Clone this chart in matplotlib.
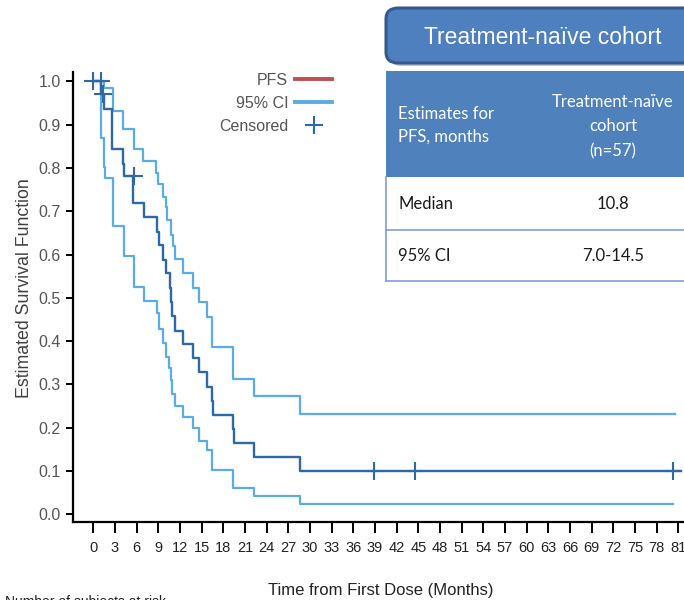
import matplotlib
matplotlib.use("Agg")
import matplotlib.pyplot as plt
from matplotlib.lines import Line2D
from matplotlib.patches import FancyBboxPatch, Rectangle

# Kaplan-Meier PFS estimate (step times in months, survival after each step)
pfs_t = [0, 1.07, 1.52, 2.6, 4.05, 4.3, 5.5, 7.0, 8.8, 9.05, 9.7, 10.0, 10.6, 10.75,
         10.85, 11.3, 12.45, 13.75, 14.6, 15.7, 16.5, 16.6, 19.3, 19.5, 22.2, 28.6, 81.4]
pfs_s = [1.0, 0.97, 0.937, 0.843, 0.81, 0.782, 0.718, 0.687, 0.653, 0.622, 0.587, 0.557,
         0.522, 0.491, 0.459, 0.424, 0.393, 0.360, 0.328, 0.295, 0.262, 0.229, 0.197,
         0.164, 0.132, 0.101, 0.101]

# 95% confidence band
upper_t = [0, 1.5, 2.7, 4.15, 5.64, 6.93, 8.68, 9.0, 9.7, 10.0, 10.2, 10.76, 11.1, 11.3,
           12.47, 13.77, 14.6, 15.7, 16.5, 19.3, 22.2, 28.6, 80.5]
upper_s = [1.0, 0.985, 0.932, 0.890, 0.844, 0.817, 0.789, 0.763, 0.733, 0.71, 0.68, 0.645,
           0.620, 0.589, 0.558, 0.523, 0.491, 0.455, 0.387, 0.312, 0.274, 0.231, 0.231]
lower_t = [0, 1.07, 1.5, 1.62, 2.68, 4.25, 5.64, 7.0, 8.78, 9.05, 9.7, 10.0, 10.5, 10.76,
           10.85, 11.27, 12.47, 13.77, 14.6, 15.7, 16.5, 19.3, 22.2, 28.6, 80.3]
lower_s = [1.0, 0.87, 0.803, 0.776, 0.666, 0.597, 0.526, 0.493, 0.464, 0.427, 0.395, 0.363,
           0.337, 0.31, 0.278, 0.251, 0.224, 0.199, 0.170, 0.148, 0.102, 0.060, 0.042,
           0.0245, 0.0245]

# Censored observations
cens_t = [0.0, 1.1, 1.3, 5.6, 38.9, 44.6, 80.3]
cens_s = [1.0, 1.0, 0.97, 0.782, 0.101, 0.101, 0.101]

x_ticks = list(range(0, 82, 3))
y_ticks = [0.0, 0.1, 0.2, 0.3, 0.4, 0.5, 0.6, 0.7, 0.8, 0.9, 1.0]

table_header = ["Estimates for\nPFS, months", "Treatment-naïve\ncohort\n(n=57)"]
table_rows = [("Median", "10.8"), ("95% CI", "7.0-14.5")]

PFS_BLUE = "#2E69A6"
CI_BLUE = "#5AADE4"
LEGEND_RED = "#C0504D"
HEADER_BLUE = "#4F81BD"
GREY_TXT = "#555555"

W, H = 684, 600
fig = plt.figure(figsize=(W / 100, H / 100), dpi=100)


def fx(px):
    return px / W


def fy(py):
    return 1 - py / H


ax = fig.add_axes([fx(73), fy(522), 1 - fx(73), fy(72) - fy(522)])
ax.set_xlim(-2.81, 81.8)
ax.set_ylim(-0.0178, 1.0215)

ax.step(upper_t, upper_s, where="post", color=CI_BLUE, lw=1.6)
ax.step(lower_t, lower_s, where="post", color=CI_BLUE, lw=1.6)
ax.step(pfs_t, pfs_s, where="post", color=PFS_BLUE, lw=1.7)
ax.plot(cens_t, cens_s, ls="none", marker="+", ms=13, mew=1.5, color=PFS_BLUE,
        clip_on=False)

for side in ("top", "right"):
    ax.spines[side].set_visible(False)
ax.spines["left"].set_linewidth(1.6)
ax.spines["bottom"].set_linewidth(1.6)

ax.set_yticks(y_ticks)
ax.set_yticklabels([f"{v:.1f}" for v in y_ticks], family="Liberation Sans",
                   fontsize=11.5, color=GREY_TXT)
ax.tick_params(axis="y", direction="out", length=5, width=1.4, pad=4)
ax.set_xticks(x_ticks)
ax.set_xticklabels([str(v) for v in x_ticks], family="Liberation Sans",
                   fontsize=10.5, color="#222222")
ax.tick_params(axis="x", direction="out", length=8, width=1.4, pad=6)

fig.text(fx(25), fy(288), "Estimated Survival Function", rotation=90,
         ha="center", va="center", family="Liberation Sans", fontsize=12.8,
         color="#404040")
fig.text(fx(381), fy(590), "Time from First Dose (Months)", ha="center", va="center",
         family="Liberation Sans", fontsize=12, color="#222222")
fig.text(fx(5), fy(595), "Number of subjects at risk", ha="left", va="top",
         family="Liberation Sans", fontsize=10, color="#222222")

# legend: labels on the left, samples on the right
handles = [
    Line2D([], [], color=LEGEND_RED, lw=2.8),
    Line2D([], [], color=CI_BLUE, lw=2.8),
    Line2D([], [], ls="none", marker="+", ms=13, mew=1.5, color=PFS_BLUE),
]
leg = ax.legend(handles, ["PFS", "95% CI", "Censored"], markerfirst=False,
                frameon=False, loc="upper left",
                bbox_to_anchor=(fx(219), fy(73)), bbox_transform=fig.transFigure,
                prop={"family": "Liberation Sans", "size": 11.5},
                handlelength=2.3, handletextpad=0.45, labelspacing=0.5,
                borderpad=0, borderaxespad=0)
for t in leg.get_texts():
    t.set_color(GREY_TXT)

# cohort title box
shadow = FancyBboxPatch((fx(389), fy(66)), fx(340), fy(10) - fy(66),
                        boxstyle="round,pad=0,rounding_size=0.018",
                        transform=fig.transFigure, fc="#9A9A9A", ec="none",
                        alpha=0.6, zorder=5)
title_box = FancyBboxPatch((fx(386), fy(63)), fx(340), fy(8) - fy(63),
                           boxstyle="round,pad=0,rounding_size=0.018",
                           transform=fig.transFigure, fc="#4E7FBE", ec="#35598C",
                           lw=2.2, zorder=6)
fig.patches.extend([shadow, title_box])
fig.text(fx(543), fy(37), "Treatment-naïve cohort", ha="center", va="center",
         family="Liberation Sans", fontsize=16.5, color="white", zorder=7)

# estimates table
header = Rectangle((fx(386), fy(177)), 1 - fx(386), fy(71) - fy(177),
                   transform=fig.transFigure, fc=HEADER_BLUE, ec="none", zorder=5)
body = Rectangle((fx(386), fy(281)), 1 - fx(386), fy(177) - fy(281),
                 transform=fig.transFigure, fc="white", ec="none", zorder=5)
fig.patches.extend([header, body])
for py in (229.5, 281):
    fig.add_artist(Line2D([fx(386), 1], [fy(py), fy(py)], transform=fig.transFigure,
                          color="#7FA0D4", lw=1.2, zorder=6))
fig.add_artist(Line2D([fx(386), fx(386)], [fy(177), fy(281)], transform=fig.transFigure,
                      color="#7FA0D4", lw=1.2, zorder=6))

tfont = {"family": ["Lato", "DejaVu Sans"], "fontsize": 12}
fig.text(fx(398), fy(125), table_header[0], ha="left", va="center", color="white",
         linespacing=1.5, zorder=7, **tfont)
fig.text(fx(613), fy(126.5), table_header[1], ha="center", va="center", color="white",
         linespacing=1.65, zorder=7, **tfont)
for (name, value), py in zip(table_rows, (204, 256)):
    fig.text(fx(398), fy(py), name, ha="left", va="center", color="#1A1A1A",
             zorder=7, **tfont)
    fig.text(fx(613), fy(py), value, ha="center", va="center", color="#1A1A1A",
             zorder=7, **tfont)

fig.savefig("out.png", dpi=100)
plt.close(fig)
